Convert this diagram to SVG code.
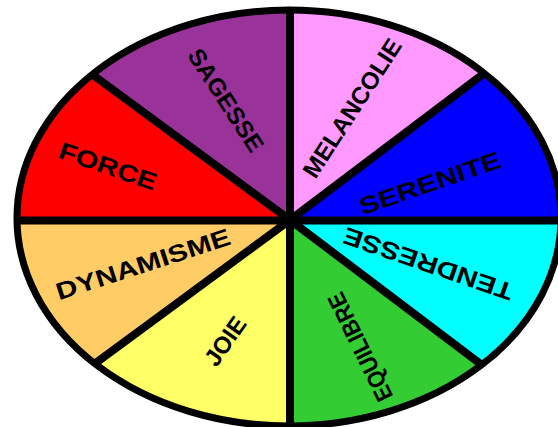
<svg xmlns="http://www.w3.org/2000/svg" width="558" height="427" viewBox="0 0 558 427">
<style>
.lbl{font-family:"Liberation Sans",Arial,sans-serif;font-weight:bold;font-size:24px;fill:#000;text-anchor:middle;dominant-baseline:central}
.div{stroke:#000;stroke-width:8;fill:none}
</style>
<defs>
<clipPath id="oval"><ellipse cx="289" cy="218" rx="272" ry="208"/></clipPath>
</defs>
<rect width="558" height="427" fill="#fff"/>
<g clip-path="url(#oval)">
<g id="sagesse"><polygon points="290,220 -100,-67 290,-100" fill="#993399"/></g>
<g id="melancolie"><polygon points="290,220 290,-100 670,-67" fill="#FF99FF"/></g>
<g id="serenite"><polygon points="290,220 670,-67 700,220" fill="#0000FF"/></g>
<g id="tendresse"><polygon points="290,220 700,220 670,507" fill="#00FFFF"/></g>
<g id="equilibre"><polygon points="290,220 670,507 290,600" fill="#33CC33"/></g>
<g id="joie"><polygon points="290,220 290,600 -100,507" fill="#FFFF66"/></g>
<g id="dynamisme"><polygon points="290,220 -100,507 -100,220" fill="#FFCC66"/></g>
<g id="force"><polygon points="290,220 -100,220 -100,-67" fill="#FF0000"/></g>
<g id="connectors">
<line class="div" x1="0" y1="220.5" x2="600" y2="220.5"/>
<line class="div" x1="290" y1="0" x2="290" y2="440"/>
<line class="div" x1="290" y1="220" x2="-100" y2="-67"/>
<line class="div" x1="290" y1="220" x2="670" y2="-67"/>
<line class="div" x1="290" y1="220" x2="-100" y2="507"/>
<line class="div" x1="290" y1="220" x2="670" y2="507"/>
</g>
</g>
<ellipse cx="289" cy="218" rx="272" ry="208" fill="none" stroke="#000" stroke-width="7"/>
<g id="labels">
<text class="lbl" transform="translate(226,100) rotate(57)" textLength="118" lengthAdjust="spacingAndGlyphs">SAGESSE</text>
<text class="lbl" transform="translate(352,108) rotate(-57)" textLength="160" lengthAdjust="spacingAndGlyphs">MELANCOLIE</text>
<text class="lbl" transform="translate(430,183) rotate(-19)" textLength="148" lengthAdjust="spacingAndGlyphs">SERENITE</text>
<text class="lbl" transform="translate(428,264) rotate(199)" textLength="178" lengthAdjust="spacingAndGlyphs">TENDRESSE</text>
<text class="lbl" transform="translate(360,347) rotate(-116)" textLength="118" lengthAdjust="spacingAndGlyphs">EQUILIBRE</text>
<text class="lbl" transform="translate(225,341) rotate(-55)" textLength="54" lengthAdjust="spacingAndGlyphs">JOIE</text>
<text class="lbl" transform="translate(143,264) rotate(-18)" textLength="182" lengthAdjust="spacingAndGlyphs">DYNAMISME</text>
<text class="lbl" transform="translate(108,166) rotate(19)" textLength="102" lengthAdjust="spacingAndGlyphs">FORCE</text>
</g>
</svg>
